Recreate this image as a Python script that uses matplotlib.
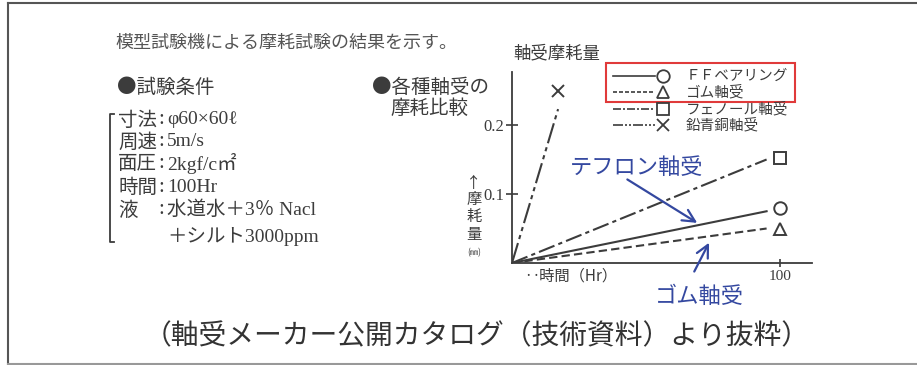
import matplotlib.pyplot as plt
from matplotlib.lines import Line2D
from matplotlib.patches import Rectangle

plt.rcParams['font.family'] = ['Noto Sans CJK JP', 'DejaVu Sans']

# wear test data (hours, wear mm)
names = ['ＦＦベアリング', 'ゴム軸受', 'フェノール軸受', '鉛青銅軸受']
end_hours = [95, 95, 95, 17.2]
end_wear = [0.075, 0.050, 0.150, 0.223]
mark_hours = [100, 100, 100, 17.0]
mark_wear = [0.079, 0.049, 0.152, 0.250]
markers = ['o', '^', 's', 'x']
dashes = [None, (4, 2), (8, 2, 2, 2), (10, 2, 2, 2, 2, 2)]

y_ticks = [0.1, 0.2]
x_ticks = [100]

conditions = [('寸法', 'φ60×60ℓ'), ('周速', '5m/s'), ('面圧', '2kgf/c㎡'),
              ('時間', '100Hr'), ('液', '水道水＋3％ Nacl')]

W, H = 917, 365
ink = '#3c3c3c'
blue = '#3448a0'

fig = plt.figure(figsize=(W / 100, H / 100), dpi=100)


def fx(x):
    return x / W


def fy(y):
    return 1 - y / H


def ftext(x, y, s, **kw):
    kw.setdefault('color', ink)
    kw.setdefault('va', 'center')
    fig.text(fx(x), fy(y), s, **kw)


# outer frame
fig.add_artist(Line2D([fx(8), fx(8)], [fy(3), fy(364)], color='#555555', lw=1.5))
fig.add_artist(Line2D([fx(8), 1], [fy(3), fy(3)], color='#555555', lw=1.5))
fig.add_artist(Line2D([fx(8), 1], [fy(364), fy(364)], color='#999999', lw=1.5))

# chart axes: x 0 at px 512, 100 at px 780; y 0 at px 263, 0.1 per 69px
ax = fig.add_axes([fx(512), fy(263), fx(812) - fx(512), fy(72) - fy(263)])
ax.set_xlim(0, (812 - 512) / 2.68)
ax.set_ylim(0, (263 - 72) / 690)
for s in ['top', 'right']:
    ax.spines[s].set_visible(False)
for s in ['left', 'bottom']:
    ax.spines[s].set_color(ink)
    ax.spines[s].set_linewidth(1.3)
ax.set_facecolor('none')
ax.set_yticks(y_ticks)
ax.set_yticklabels(['0.1', '0.2'], family='Liberation Serif', fontsize=12, color=ink)
ax.set_xticks(x_ticks)
ax.set_xticklabels(['100'], family='Liberation Serif', fontsize=11, color=ink)
ax.tick_params(axis='y', direction='inout', length=9, width=1.2, color=ink, pad=1)
ax.tick_params(axis='x', direction='inout', length=6, width=1.2, color=ink, pad=2)

for i in range(len(names)):
    ln, = ax.plot([0, end_hours[i]], [0, end_wear[i]], color=ink, lw=1.5)
    if dashes[i]:
        ln.set_dashes(dashes[i])
    ax.plot(mark_hours[i], mark_wear[i], marker=markers[i], ms=9 if markers[i] != 'x' else 8,
            mfc='white', mec=ink, mew=1.4, color=ink, clip_on=False)

# legend
rows = [76, 92, 109, 125]
for i in range(len(names)):
    ln = Line2D([fx(613), fx(655)], [fy(rows[i]), fy(rows[i])], color=ink, lw=1.2)
    if dashes[i]:
        ln.set_dashes([d * 0.6 for d in dashes[i]])
    fig.add_artist(ln)
    fig.add_artist(Line2D([fx(663)], [fy(rows[i])], marker=markers[i], ms=9 if i == 0 else 8,
                          mfc='white', mec=ink, mew=1.3))
    ftext(686, rows[i], names[i], fontsize=10.5)
fig.add_artist(Rectangle((fx(606), fy(102)), fx(795) - fx(606), fy(63) - fy(102),
                         fill=False, ec='#e03a3a', lw=1.5))

# axis labels
ftext(513, 53, '軸受摩耗量', fontsize=12.5)
ftext(474, 183, '↑', fontsize=11, ha='center')
for ch, y in zip('摩耗量', [199, 217, 235]):
    ftext(474, y, ch, fontsize=11, ha='center')
ftext(474, 253, '(㎜)', fontsize=6, ha='center')
ftext(524, 276, '‥時間（Hr）', fontsize=11)

# left text
ftext(115, 43, '模型試験機による摩耗試験の結果を示す。', fontsize=13, color='#555555')
ftext(117, 87, '●試験条件', fontsize=14)
ftext(372, 87, '●各種軸受の', fontsize=14)
ftext(390, 108, '摩耗比較', fontsize=14)
cy = [120, 142, 164, 187, 210]
for (k, v), y in zip(conditions, cy):
    ftext(118, y, k, fontsize=14)
    ftext(158, y, ':', fontsize=15, family='Liberation Serif')
    ftext(167, y, v, fontsize=14, family=['Liberation Serif', 'Noto Sans CJK JP'])
ftext(167, 237, '＋シルト3000ppm', fontsize=14, family=['Liberation Serif', 'Noto Sans CJK JP'])
fig.add_artist(Line2D([fx(114), fx(110), fx(110), fx(114)],
                      [fy(114), fy(114), fy(242), fy(242)], color=ink, lw=1.3))

# blue annotations
ftext(570, 167, 'テフロン軸受', fontsize=16, color=blue)
ax.annotate('', xy=(70, 0.056), xytext=(fx(625), fy(178)), textcoords='figure fraction',
            arrowprops=dict(arrowstyle='->', color=blue, lw=1.6, mutation_scale=22))
ftext(655, 296, 'ゴム軸受', fontsize=16, color=blue)
ax.annotate('', xy=(74, 0.033), xytext=(fx(693), fy(274)), textcoords='figure fraction',
            arrowprops=dict(arrowstyle='->', color=blue, lw=1.6, mutation_scale=22),
            annotation_clip=False)

# caption
ftext(477, 336, '（軸受メーカー公開カタログ（技術資料）より抜粋）', fontsize=20, ha='center', color='#333333')

fig.savefig('out.png', dpi=100)
